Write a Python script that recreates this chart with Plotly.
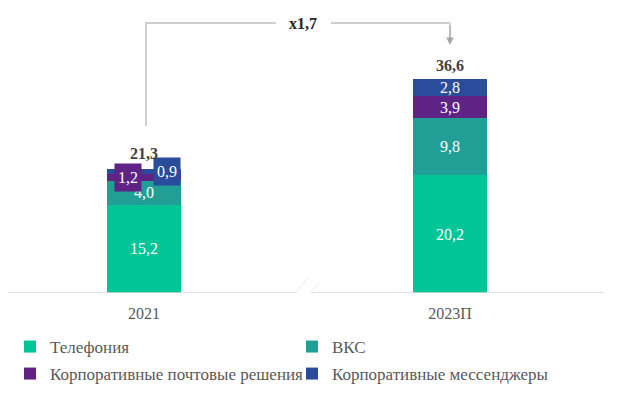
import plotly.graph_objects as go

categories = ["2021", "2023П"]
series_names = ["Телефония", "ВКС", "Корпоративные почтовые решения", "Корпоративные мессенджеры"]
telephony = [15.2, 20.2]
vks = [4.0, 9.8]
mail = [1.2, 3.9]
messengers = [0.9, 2.8]
totals = [21.3, 36.6]
colors = ["#00C597", "#219E96", "#5E2384", "#2B4B9B"]

series = [telephony, vks, mail, messengers]

FONT = "Liberation Serif"
OFF = 8                      # page body margin
W, H = 617 - OFF, 394 - OFF  # figure size so it fits the window
PX_PER_UNIT = 5.82
BASE_PAGE = 293              # axis line, page pixels
TOP_PAGE = 10
PLOT_R_PAGE = 603
CAT0_PAGE = 144
CAT_STEP = 306

plot_top = TOP_PAGE - OFF
plot_bottom = BASE_PAGE - OFF
plot_w = PLOT_R_PAGE - OFF
ymax = (plot_bottom - plot_top) / PX_PER_UNIT


def fmt(v):
    return f"{v:.1f}".replace(".", ",")


def small(v):
    return v < 2.0  # labels too small to sit inside the bar


def ypx(py):
    return (BASE_PAGE - py) / PX_PER_UNIT


def xpx(px):
    return (px - OFF) / plot_w


fig = go.Figure()
for k, (name, vals, col) in enumerate(zip(series_names, series, colors)):
    texts = ["" if small(v) else fmt(v) for v in vals]
    fig.add_trace(go.Bar(
        x=categories, y=vals, name=name, marker_color=col,
        marker_line_width=0,
        text=texts, textposition="inside", insidetextanchor="middle",
        textfont=dict(family=FONT, size=16, color="white"),
        insidetextfont=dict(family=FONT, size=16, color="white"),
        constraintext="none",
        width=74 / CAT_STEP,
        legend="legend" if k < 2 else "legend2",
        hoverinfo="skip",
    ))

annotations = []
# boxed labels for small segments
shifts = {2: -16, 3: 23}
for k in (2, 3):
    for i, v in enumerate(series[k]):
        if small(v):
            base = sum(series[j][i] for j in range(k))
            annotations.append(dict(
                x=i, y=base + v / 2, xref="x", yref="y",
                text=fmt(v), showarrow=False, xshift=shifts[k],
                bgcolor=colors[k], borderpad=3, height=21,
                font=dict(family=FONT, size=16, color="white"),
            ))

# totals
for i, t in enumerate(totals):
    annotations.append(dict(
        x=i, y=t, xref="x", yref="y", text=f"<b>{fmt(t)}</b>",
        showarrow=False, yanchor="bottom", yshift=5 if i == 0 else 4,
        font=dict(family=FONT, size=16, color="#404040"),
    ))

# growth bracket
growth = totals[1] / totals[0]
bracket_y = ypx(23)
annotations.append(dict(
    x=xpx(303), y=bracket_y, xref="paper", yref="y",
    text=f"<b>x{fmt(growth)}</b>", showarrow=False,
    font=dict(family=FONT, size=16, color="#262626"),
))
annotations.append(dict(
    x=1, y=ypx(45), xref="x", yref="y", text="",
    showarrow=True, arrowhead=2, arrowsize=1, arrowwidth=1.5,
    arrowcolor="#A6A6A6", ax=0, ay=-22,
))

line_style = dict(color="#BFBFBF", width=1.5)
shapes = [
    dict(type="path", xref="paper", yref="y",
         path=f"M {xpx(146)},{ypx(126)} L {xpx(146)},{bracket_y} L {xpx(276)},{bracket_y}",
         line=line_style),
    dict(type="line", xref="paper", yref="y", x0=xpx(331), x1=xpx(450.5),
         y0=bracket_y, y1=bracket_y, line=line_style),
    # axis line with break
    dict(type="line", xref="paper", yref="y", x0=0, x1=xpx(295), y0=0, y1=0,
         line=dict(color="#D9D9D9", width=1.5)),
    dict(type="line", xref="paper", yref="y", x0=xpx(312), x1=1, y0=0, y1=0,
         line=dict(color="#D9D9D9", width=1.5)),
    dict(type="line", xref="paper", yref="y", x0=xpx(287), x1=xpx(308),
         y0=ypx(303), y1=ypx(278), line=dict(color="#E6E6E6", width=1)),
    dict(type="line", xref="paper", yref="y", x0=xpx(297), x1=xpx(319),
         y0=ypx(309), y1=ypx(283), line=dict(color="#E6E6E6", width=1)),
]

left = -(CAT0_PAGE - OFF) / CAT_STEP
right = (PLOT_R_PAGE - CAT0_PAGE) / CAT_STEP

legend_font = dict(family=FONT, size=17, color="#595959")
legend_common = dict(orientation="h", xref="container", yref="container",
                     x=2 / W, xanchor="left", yanchor="middle",
                     font=legend_font, entrywidth=237, entrywidthmode="pixels",
                     traceorder="normal", bgcolor="rgba(0,0,0,0)")
fig.update_layout(
    width=W, height=H,
    font=dict(family=FONT, color="#595959"),
    margin=dict(l=0, r=W - plot_w, t=plot_top, b=H - plot_bottom, autoexpand=False),
    barmode="stack",
    plot_bgcolor="white", paper_bgcolor="white",
    xaxis=dict(type="category", range=[left, right], showline=False, showgrid=False,
               zeroline=False, ticks="", ticklabelstandoff=9, automargin=False,
               tickfont=dict(family=FONT, size=16, color="#595959")),
    yaxis=dict(range=[0, ymax], visible=False, automargin=False),
    showlegend=True,
    legend=dict(legend_common, y=1 - (347 - OFF) / H),
    legend2=dict(legend_common, y=1 - (374 - OFF) / H),
    annotations=annotations,
    shapes=shapes,
)

fig.write_html("out.html")
